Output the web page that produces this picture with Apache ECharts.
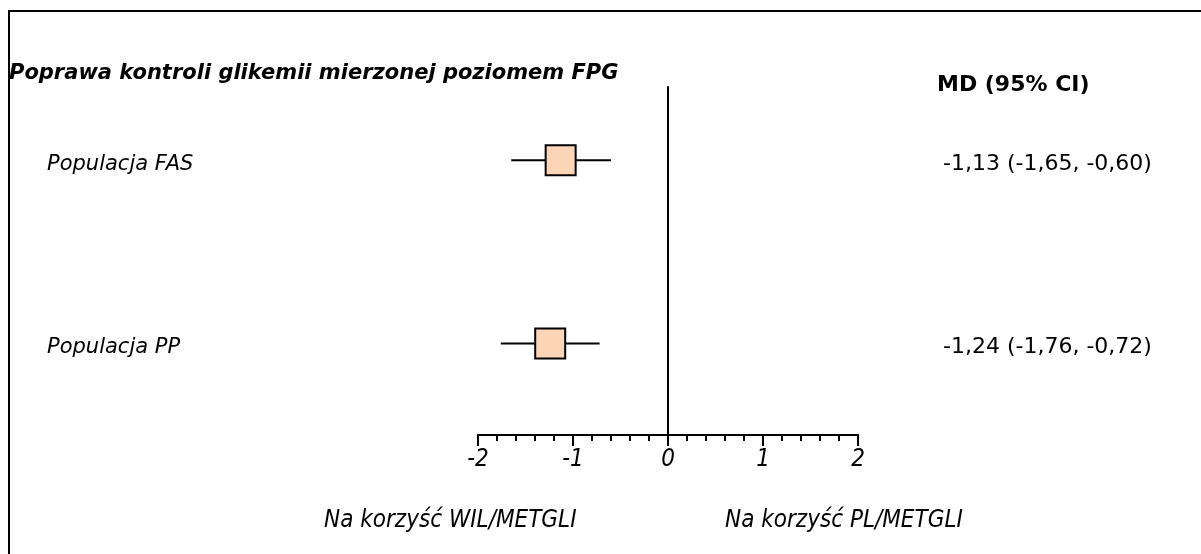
<!DOCTYPE html>
<html>
<head>
<meta charset="utf-8">
<script src="https://cdn.jsdelivr.net/npm/echarts@6/dist/echarts.min.js"></script>
<style>
  html, body { margin: 0; padding: 0; background: #fff; }
  #chart { width: 1201px; height: 554px; }
</style>
</head>
<body>
<div id="chart"></div>
<script>
// Forest plot: mean difference in FPG with 95% confidence intervals
const categories = ['Populacja FAS', 'Populacja PP'];
const md = [-1.13, -1.24];
const ciLow = [-1.65, -1.76];
const ciHigh = [-0.60, -0.72];
const xTicks = [-2, -1, 0, 1, 2];

const titleText = 'Poprawa kontroli glikemii mierzonej poziomem FPG';
const headerText = 'MD (95% CI)';
const favourLeft = 'Na korzyść WIL/METGLI';
const favourRight = 'Na korzyść PL/METGLI';

const fmt = v => v.toFixed(2).replace('.', ',');
const rowY = i => 1 + i * 2.5;

const chart = echarts.init(document.getElementById('chart'));

const mainFont = 'DejaVu Sans';
const sideFont = 'DejaVu Sans Condensed';

const rows = categories.map((c, i) => [md[i], ciLow[i], ciHigh[i], rowY(i)]);

const option = {
  animation: false,
  backgroundColor: '#ffffff',
  grid: { left: 478, right: 343, top: 87, bottom: 119, containLabel: false },
  xAxis: {
    type: 'value',
    min: xTicks[0],
    max: xTicks[xTicks.length - 1],
    interval: 1,
    position: 'bottom',
    axisLine: { show: true, onZero: false, lineStyle: { color: '#000', width: 2 } },
    axisTick: { show: true, length: 11, lineStyle: { color: '#000', width: 2 } },
    minorTick: { show: true, splitNumber: 5, length: 6, lineStyle: { color: '#000', width: 2 } },
    splitLine: { show: false },
    axisLabel: {
      margin: 13,
      color: '#000',
      fontFamily: sideFont,
      fontStyle: 'italic',
      fontSize: 24,
      formatter: v => String(v)
    }
  },
  yAxis: {
    type: 'value',
    min: 0,
    max: 4.75,
    inverse: true,
    axisLine: { show: true, onZero: true, lineStyle: { color: '#000', width: 2 } },
    axisTick: { show: false },
    axisLabel: { show: false },
    splitLine: { show: false }
  },
  series: [{
    type: 'custom',
    data: rows,
    encode: { x: 0, y: 3 },
    renderItem: (params, api) => {
      const y = api.value(3);
      const c = api.coord([api.value(0), y]);
      const lo = api.coord([api.value(1), y]);
      const hi = api.coord([api.value(2), y]);
      const half = 15;
      return {
        type: 'group',
        children: [
          {
            type: 'line',
            shape: { x1: lo[0], y1: lo[1], x2: hi[0], y2: hi[1] },
            style: { stroke: '#000', lineWidth: 2 }
          },
          {
            type: 'rect',
            shape: { x: c[0] - half, y: c[1] - half, width: half * 2, height: half * 2 },
            style: { fill: '#FBD5B5', stroke: '#000', lineWidth: 2 }
          }
        ]
      };
    }
  }],
  graphic: []
};

chart.setOption(option);

// Text and frame placed after layout so the rows line up with the plot scale
const g = [];
g.push({ type: 'line', shape: { x1: 9, y1: 11, x2: 1201, y2: 11 }, style: { stroke: '#000', lineWidth: 2 } });
g.push({ type: 'line', shape: { x1: 9, y1: 10, x2: 9, y2: 554 }, style: { stroke: '#000', lineWidth: 2 } });
g.push({
  type: 'text', x: 9, y: 74,
  style: { text: titleText, font: 'italic bold 21px "' + mainFont + '"', fill: '#000', textVerticalAlign: 'middle' }
});
g.push({
  type: 'text', x: 937, y: 85,
  style: { text: headerText, font: 'bold 22px "' + mainFont + '"', fill: '#000', textVerticalAlign: 'middle' }
});
categories.forEach((c, i) => {
  const p = chart.convertToPixel({ gridIndex: 0 }, [0, rowY(i)]);
  g.push({
    type: 'text', x: 47, y: p[1] + 4,
    style: { text: c, font: 'italic 21px "' + mainFont + '"', fill: '#000', textVerticalAlign: 'middle' }
  });
  g.push({
    type: 'text', x: 943, y: p[1] + 4,
    style: {
      text: fmt(md[i]) + ' (' + fmt(ciLow[i]) + ', ' + fmt(ciHigh[i]) + ')',
      font: '22px "' + mainFont + '"', fill: '#000', textVerticalAlign: 'middle'
    }
  });
});
g.push({
  type: 'text', x: 324, y: 521,
  style: { text: favourLeft, font: 'italic 24px "' + sideFont + '"', fill: '#000', textVerticalAlign: 'middle' }
});
g.push({
  type: 'text', x: 725, y: 521,
  style: { text: favourRight, font: 'italic 24px "' + sideFont + '"', fill: '#000', textVerticalAlign: 'middle' }
});
chart.setOption({ graphic: g });
</script>
</body>
</html>
